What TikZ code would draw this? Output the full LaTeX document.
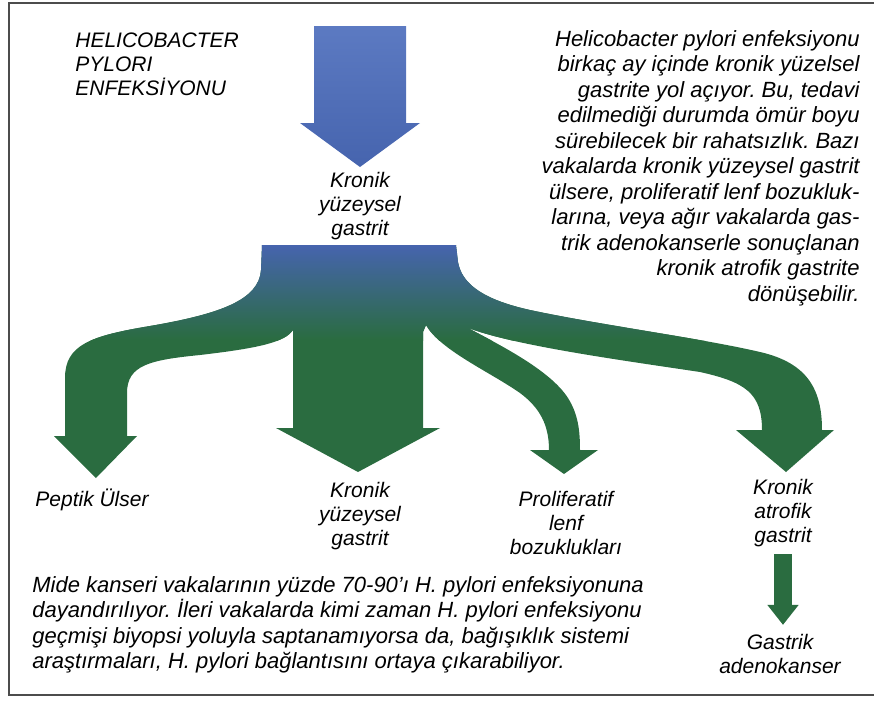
\documentclass[tikz,border=0pt]{standalone}
\usepackage{fontspec}
\setmainfont{Liberation Sans}
\frenchspacing
\usetikzlibrary{arrows.meta}
\definecolor{pyloriblue}{RGB}{70,100,174}
\definecolor{pylorilight}{RGB}{92,122,194}
\definecolor{pylorigreen}{RGB}{42,108,64}
\tikzset{
  lbl/.style={font=\fontsize{10.5}{12}\selectfont\itshape, align=center, inner sep=2pt, text=black},
  para/.style={font=\fontsize{11}{12.75}\selectfont\itshape, inner sep=0pt, text=black},
  smallarrow/.style={draw=pylorigreen, line width=9pt, -{Triangle[length=10pt,width=15pt]}},
  framing/.style={draw=gray!60!black, line width=1pt}
}

\begin{document}
\begin{tikzpicture}[x=0.5pt,y=-0.5pt]
  \useasboundingbox (0,0) rectangle (874,702);
  \draw[framing] (874,3) -- (9,3) -- (9,695) -- (874,695);

  \shade[top color=pylorilight, bottom color=pyloriblue]
    (314,26) -- (406,26) -- (406,123) -- (420,123) -- (360,167)
    -- (300,123) -- (314,123) -- cycle;

  \begin{scope}
    \clip (262,245) -- (456,245) -- (458,262)
      .. controls (462,285) and (485,300) .. (530,310)
      .. controls (600,325) and (700,338) .. (760,352)
      .. controls (808,363) and (822,390) .. (822,430)
      -- (834,430) -- (786,472) -- (736,430) -- (762,430)
      .. controls (762,393) and (745,382) .. (700,372)
      .. controls (620,360) and (510,345) .. (466,327)
      .. controls (500,345) and (550,370) .. (568,398)
      .. controls (578,414) and (580,430) .. (580,450)
      -- (598,450) -- (564,474) -- (530,450) -- (549,450)
      .. controls (549,425) and (540,408) .. (520,393)
      .. controls (490,372) and (440,350) .. (426,325)
      -- (423,332) -- (423,428) -- (440,428) -- (358,472) -- (276,428)
      -- (293,428) -- (293,330)
      .. controls (285,342) and (260,348) .. (200,355)
      .. controls (150,360) and (127,365) .. (127,393)
      -- (127,436) -- (137,436) -- (96,478) -- (54,436) -- (65,436)
      -- (65,378)
      .. controls (65,345) and (90,336) .. (150,326)
      .. controls (220,314) and (259,300) .. (261,270) -- cycle;
    \fill[pylorigreen] (0,0) rectangle (874,702);
    \shade[top color=pyloriblue, bottom color=pylorigreen] (0,245) rectangle (874,340);
  \end{scope}

  \node[lbl, align=left, anchor=north west, inner sep=0pt] (title) at (75,32)
    {HELICOBACTER\\PYLORI\\ENFEKS\.{I}YONU};
  \node[lbl] (chronic) at (360,206) {Kronik\\yüzeysel\\gastrit};
  \node[lbl] (peptic) at (92,500) {Peptik Ülser};
  \node[lbl] (surface) at (360,516) {Kronik\\yüzeysel\\gastrit};
  \node[lbl] (lymph) at (566,523) {Proliferatif\\lenf\\bozuklukları};
  \node[lbl] (atrofik) at (783,513) {Kronik\\atrofik\\gastrit};
  \node[lbl] (adeno) at (780,654) {Gastrik\\adenokanser};

  \draw[smallarrow, shorten <=1.5pt, shorten >=2.5pt]
    (atrofik.south) -- (atrofik.south |- adeno.north);

  \node[para, align=right, anchor=north east] (course) at (860,30)
    {Helicobacter pylori enfeksiyonu\\
     birkaç ay içinde kronik yüzelsel\\
     gastrite yol açıyor. Bu, tedavi\\
     edilmediği durumda ömür boyu\\
     sürebilecek bir rahatsızlık. Bazı\\
     vakalarda kronik yüzeysel gastrit\\
     ülsere, proliferatif lenf bozukluk-\\
     larına, veya ağır vakalarda gas-\\
     trik adenokanserle sonuçlanan\\
     kronik atrofik gastrite\\
     dönüşebilir.};
  \node[para, align=left, anchor=north west] (cancer) at (32,576)
    {Mide kanseri vakalarının yüzde 70-90'ı H. pylori enfeksiyonuna\\
     dayandırılıyor. İleri vakalarda kimi zaman H. pylori enfeksiyonu\\
     geçmişi biyopsi yoluyla saptanamıyorsa da, bağışıklık sistemi\\
     araştırmaları, H. pylori bağlantısını ortaya çıkarabiliyor.};
\end{tikzpicture}
\end{document}
